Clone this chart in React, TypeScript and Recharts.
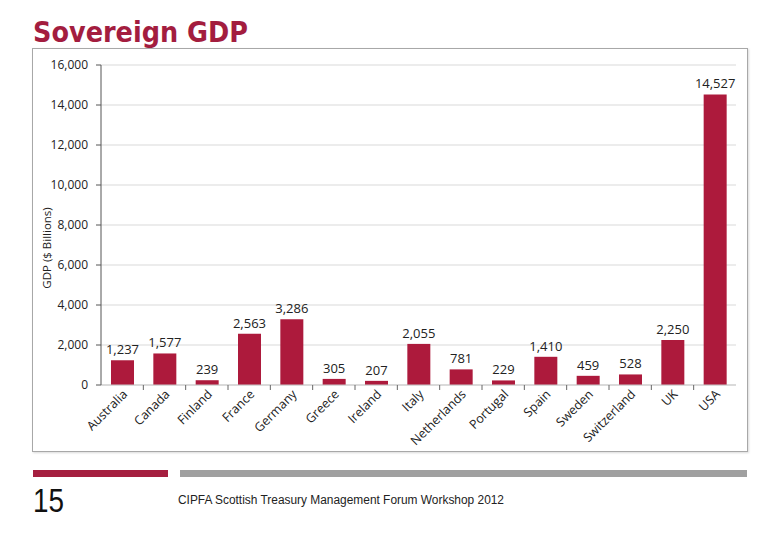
import React from 'react';
import { BarChart, Bar, XAxis, YAxis, CartesianGrid, LabelList } from 'recharts';

const countries = ['Australia', 'Canada', 'Finland', 'France', 'Germany', 'Greece', 'Ireland', 'Italy', 'Netherlands', 'Portugal', 'Spain', 'Sweden', 'Switzerland', 'UK', 'USA'];
const gdp = [1237, 1577, 239, 2563, 3286, 305, 207, 2055, 781, 229, 1410, 459, 528, 2250, 14527];
const yTicks = [0, 2000, 4000, 6000, 8000, 10000, 12000, 14000, 16000];

const data = countries.map((c, i) => ({ country: c, gdp: gdp[i] }));

const CRIMSON = '#ad1a3c';
const FONT = '"Open Sans", "DejaVu Sans", sans-serif';
const fmt = (v: number) => v.toLocaleString('en-US');

const XTick = (props: any) => {
  const { x, y, payload, index } = props;
  const half = payload && payload.offset ? payload.offset : 21.15;
  return (
    <g>
      {index > 0 && <line x1={x - half} x2={x - half} y1={y} y2={y + 5} stroke="#666" strokeWidth={1} />}
      <text
        x={x + 6}
        y={y + 10}
        textAnchor="end"
        transform={`rotate(-45, ${x + 6}, ${y + 10})`}
        fontSize={12.5}
        fontFamily={FONT}
        fill="#222"
      >
        {payload.value}
      </text>
    </g>
  );
};

const YLabel = () => (
  <text
    transform="translate(13, 199) rotate(-90)"
    textAnchor="middle"
    dominantBaseline="central"
    fontSize={11.5}
    fontFamily={FONT}
    fill="#222"
  >
    GDP ($ Billions)
  </text>
);

export default function App() {
  return (
    <div style={{ position: 'absolute', left: 0, top: 0, width: 780, height: 540, background: '#fff' }}>
      <svg width={780} height={540} style={{ position: 'absolute', left: 0, top: 0 }}>
        <text x={33} y={42} fontSize={29} fontWeight={600} fontFamily='"DejaVu Sans Condensed", "DejaVu Sans", sans-serif' fill="#a31d3f" textLength={215} lengthAdjust="spacingAndGlyphs">
          Sovereign GDP
        </text>
        <rect x={33} y={470} width={135} height={7} fill="#a51f40" />
        <rect x={180} y={470} width={567} height={7} fill="#a0a0a0" />
        <text x={33} y={512} fontSize={33} fontFamily='"Liberation Sans", sans-serif' fill="#111" textLength={31} lengthAdjust="spacingAndGlyphs">
          15
        </text>
        <text x={178} y={504} fontSize={12.5} fontFamily='"Liberation Sans", sans-serif' fill="#222" textLength={326} lengthAdjust="spacingAndGlyphs">
          CIPFA Scottish Treasury Management Forum Workshop  2012
        </text>
      </svg>
      <div
        style={{
          position: 'absolute',
          left: 32,
          top: 48,
          width: 714,
          height: 402,
          border: '1px solid #a8a8a8',
          boxShadow: '1px 1px 2px rgba(0,0,0,0.15)',
          background: '#fff',
        }}
      >
        <BarChart width={714} height={402} data={data} margin={{ top: 16, right: 11, bottom: 0, left: 0 }} barSize={23}>
          <CartesianGrid vertical={false} stroke="#d9d9d9" />
          <XAxis
            dataKey="country"
            height={66}
            interval={0}
            axisLine={{ stroke: '#c8c8c8' }}
            tickLine={false}
            tickSize={0}
            tickMargin={0}
            tick={<XTick />}
          />
          <YAxis
            width={68}
            domain={[0, 16000]}
            ticks={yTicks}
            tickFormatter={fmt}
            axisLine={{ stroke: '#555' }}
            tickLine={{ stroke: '#555' }}
            tickSize={5}
            tickMargin={8}
            tick={{ fontSize: 12, fontFamily: FONT, fill: '#222' }}
            label={{ content: <YLabel /> }}
          />
          <Bar dataKey="gdp" fill={CRIMSON} isAnimationActive={false}>
            <LabelList dataKey="gdp" position="top" offset={6} formatter={(v: any) => fmt(Number(v))} fontSize={13} fontFamily={FONT} fill="#222" />
          </Bar>
        </BarChart>
      </div>
    </div>
  );
}
